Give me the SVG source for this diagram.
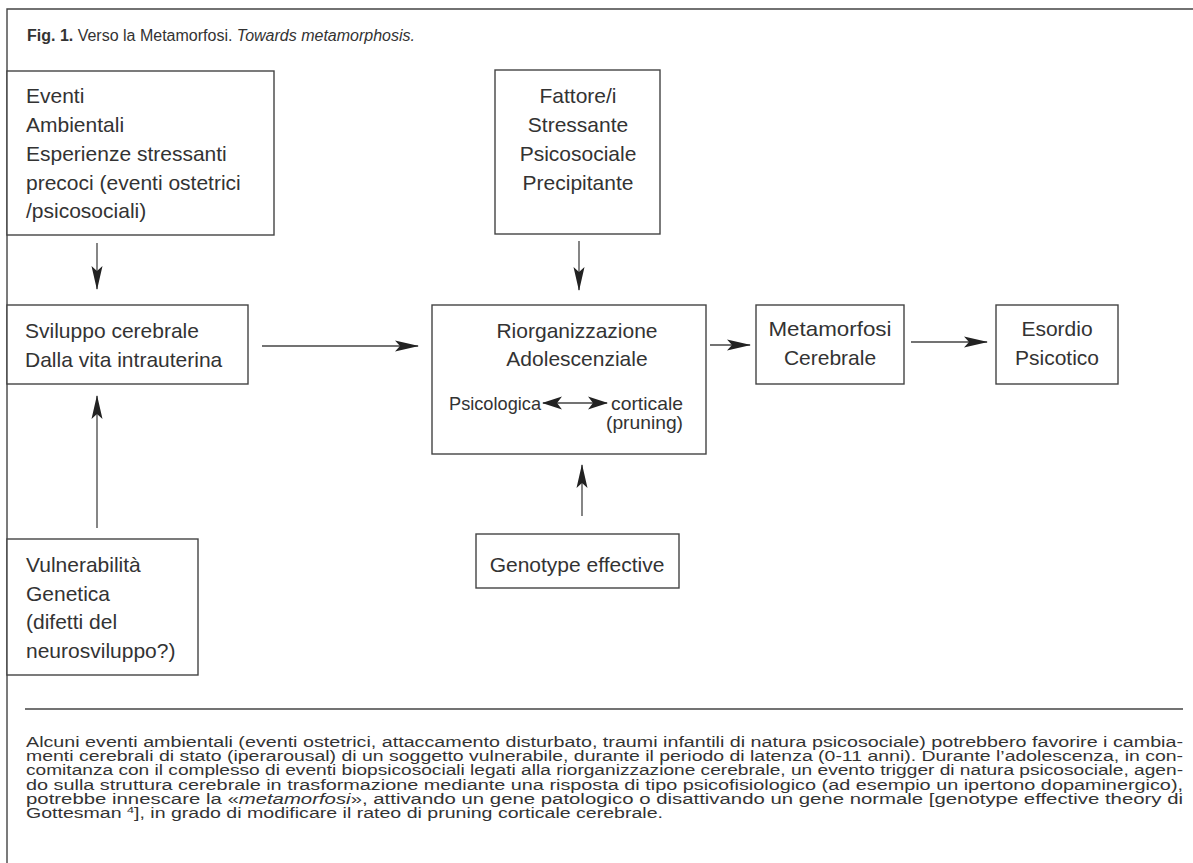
<svg xmlns="http://www.w3.org/2000/svg" width="1193" height="863" viewBox="0 0 1193 863">
<style>
  .frame { fill: none; stroke: #444; stroke-width: 1.4; }
  .box { fill: #fff; stroke: #444; stroke-width: 1.4; }
  .t { font-family: "Liberation Sans", Arial, sans-serif; font-size: 21px; fill: #333; }
  .s { font-family: "Liberation Sans", Arial, sans-serif; font-size: 19px; fill: #333; }
  .c { text-anchor: middle; }
  .e { text-anchor: end; }
  .title { font-family: "Liberation Sans", Arial, sans-serif; font-size: 16px; fill: #333; }
  .cap { font-family: "Liberation Sans", Arial, sans-serif; font-size: 14px; fill: #333; }
  .conn { stroke: #444; stroke-width: 1.3; fill: none; }
</style>
<defs>
  <marker id="ah" viewBox="0 0 24 12" refX="23" refY="6" markerWidth="24" markerHeight="12" markerUnits="userSpaceOnUse" orient="auto-start-reverse">
    <path d="M24,6 L0,0.5 L5,6 L0,11.5 Z" fill="#222"/>
  </marker>
  <marker id="ah2" viewBox="0 0 20 14" refX="19" refY="7" markerWidth="20" markerHeight="14" markerUnits="userSpaceOnUse" orient="auto-start-reverse">
    <path d="M20,7 L0,0.5 L5,7 L0,13.5 Z" fill="#222"/>
  </marker>
</defs>
<rect width="1193" height="863" fill="#fff"/>

<g id="frame">
  <path class="frame" d="M7,863 L7,9 L1193,9"/>
  <line class="frame" x1="25" y1="709" x2="1183" y2="709"/>
</g>

<g id="title">
  <text class="title" x="27" y="41"><tspan font-weight="bold">Fig. 1.</tspan> Verso la Metamorfosi. <tspan font-style="italic">Towards metamorphosis.</tspan></text>
</g>

<g id="eventi">
  <rect class="box" x="7" y="71" width="267" height="164"/>
  <text class="t" x="26" y="103">Eventi</text>
  <text class="t" x="26" y="132">Ambientali</text>
  <text class="t" x="26" y="161">Esperienze stressanti</text>
  <text class="t" x="26" y="190">precoci (eventi ostetrici</text>
  <text class="t" x="26" y="218">/psicosociali)</text>
</g>

<g id="fattore">
  <rect class="box" x="495" y="70" width="165" height="164"/>
  <text class="t c" x="578" y="103">Fattore/i</text>
  <text class="t c" x="578" y="132">Stressante</text>
  <text class="t c" x="578" y="161">Psicosociale</text>
  <text class="t c" x="578" y="190">Precipitante</text>
</g>

<g id="sviluppo">
  <rect class="box" x="7" y="305" width="241" height="79"/>
  <text class="t" x="25" y="338">Sviluppo cerebrale</text>
  <text class="t" x="25" y="367">Dalla vita intrauterina</text>
</g>

<g id="riorganizzazione">
  <rect class="box" x="432" y="305" width="274" height="149"/>
  <text class="t c" x="577" y="338">Riorganizzazione</text>
  <text class="t c" x="577" y="366">Adolescenziale</text>
  <text class="s" x="449" y="410" textLength="92" lengthAdjust="spacingAndGlyphs">Psicologica</text>
  <text class="s" x="611" y="410" textLength="72" lengthAdjust="spacingAndGlyphs">corticale</text>
  <text class="s" x="606" y="429" textLength="77" lengthAdjust="spacingAndGlyphs">(pruning)</text>
</g>

<g id="metamorfosi">
  <rect class="box" x="756" y="305" width="148" height="79"/>
  <text class="t c" x="830" y="336" textLength="123" lengthAdjust="spacingAndGlyphs">Metamorfosi</text>
  <text class="t c" x="830" y="365">Cerebrale</text>
</g>

<g id="esordio">
  <rect class="box" x="996" y="305" width="122" height="79"/>
  <text class="t c" x="1057" y="336">Esordio</text>
  <text class="t c" x="1057" y="365">Psicotico</text>
</g>

<g id="genotype">
  <rect class="box" x="476" y="534" width="203" height="54"/>
  <text class="t c" x="577" y="572">Genotype effective</text>
</g>

<g id="vulnerabilita">
  <rect class="box" x="7" y="539" width="191" height="136"/>
  <text class="t" x="26" y="572">Vulnerabilità</text>
  <text class="t" x="26" y="601">Genetica</text>
  <text class="t" x="26" y="629">(difetti del</text>
  <text class="t" x="26" y="658">neurosviluppo?)</text>
</g>

<g id="connectors">
  <line class="conn" x1="97" y1="243" x2="97" y2="289" marker-end="url(#ah)"/>
  <line class="conn" x1="97" y1="528" x2="97" y2="396" marker-end="url(#ah)"/>
  <line class="conn" x1="262" y1="346" x2="418" y2="346" marker-end="url(#ah)"/>
  <line class="conn" x1="579" y1="241" x2="579" y2="290" marker-end="url(#ah)"/>
  <line class="conn" x1="582" y1="516" x2="582" y2="465" marker-end="url(#ah)"/>
  <line class="conn" x1="710" y1="345" x2="750" y2="345" marker-end="url(#ah)"/>
  <line class="conn" x1="911" y1="342" x2="987" y2="342" marker-end="url(#ah)"/>
  <line class="conn" x1="543" y1="403" x2="607" y2="403" marker-start="url(#ah2)" marker-end="url(#ah2)"/>
</g>

<g id="caption">
  <text class="cap" x="26" y="747" textLength="1157" lengthAdjust="spacingAndGlyphs">Alcuni eventi ambientali (eventi ostetrici, attaccamento disturbato, traumi infantili di natura psicosociale) potrebbero favorire i cambia-</text>
  <text class="cap" x="26" y="761.2" textLength="1157" lengthAdjust="spacingAndGlyphs">menti cerebrali di stato (iperarousal) di un soggetto vulnerabile, durante il periodo di latenza (0-11 anni). Durante l’adolescenza, in con-</text>
  <text class="cap" x="26" y="775.4" textLength="1157" lengthAdjust="spacingAndGlyphs">comitanza con il complesso di eventi biopsicosociali legati alla riorganizzazione cerebrale, un evento trigger di natura psicosociale, agen-</text>
  <text class="cap" x="26" y="789.6" textLength="1157" lengthAdjust="spacingAndGlyphs">do sulla struttura cerebrale in trasformazione mediante una risposta di tipo psicofisiologico (ad esempio un ipertono dopaminergico),</text>
  <text class="cap" x="26" y="803.8" textLength="1157" lengthAdjust="spacingAndGlyphs">potrebbe innescare la «<tspan font-style="italic">metamorfosi</tspan>», attivando un gene patologico o disattivando un gene normale [genotype effective theory di</text>
  <text class="cap" x="26" y="818" textLength="637" lengthAdjust="spacingAndGlyphs">Gottesman <tspan font-size="9" dy="-5">4</tspan><tspan dy="5">], in grado di modificare il rateo di pruning corticale cerebrale.</tspan></text>
</g>
</svg>
